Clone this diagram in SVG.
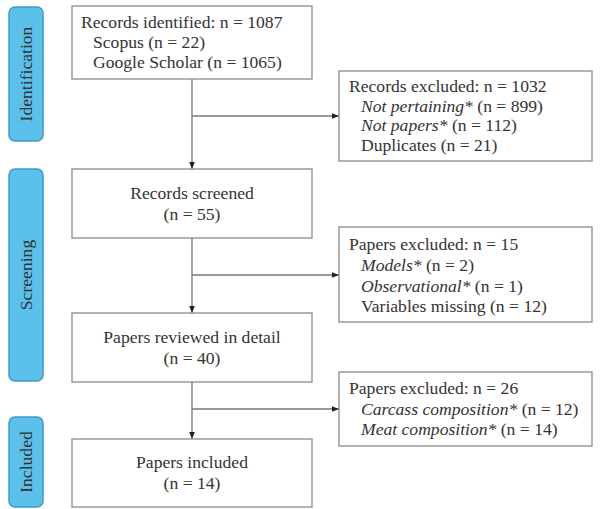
<svg xmlns="http://www.w3.org/2000/svg" width="600" height="509" viewBox="0 0 600 509">
<defs>
<marker id="arr" viewBox="0 0 10 10" refX="10" refY="5" markerWidth="7" markerHeight="7" markerUnits="userSpaceOnUse" orient="auto">
<path d="M0,1 L10,5 L0,9 z" fill="#222"/>
</marker>
<style>
.box{fill:#fff;stroke:#8a8a8a;stroke-width:1.3}
.stage{fill:#5bc1ea;stroke:#3d9cc6;stroke-width:1.5}
.t{font-family:"Liberation Serif","Times New Roman",serif;font-size:17.6px;fill:#333}
.c{text-anchor:middle}
.i{font-style:italic}
.ln{fill:none;stroke:#777;stroke-width:1.3}
</style>
</defs>
<rect width="600" height="509" fill="#fff"/>
<g id="stage-identification">
<rect class="stage" x="9" y="7" width="34" height="134" rx="6"/>
<text class="t c" transform="translate(32,74) rotate(-90)">Identification</text>
</g>
<g id="stage-screening">
<rect class="stage" x="9" y="169" width="34" height="212" rx="6"/>
<text class="t c" transform="translate(32,275) rotate(-90)">Screening</text>
</g>
<g id="stage-included">
<rect class="stage" x="9" y="417" width="34" height="90" rx="6"/>
<text class="t c" transform="translate(32,462) rotate(-90)">Included</text>
</g>
<g id="connectors">
<line class="ln" x1="192" y1="79" x2="192" y2="169" marker-end="url(#arr)"/>
<line class="ln" x1="192" y1="116" x2="339" y2="116" marker-end="url(#arr)"/>
<line class="ln" x1="192" y1="238" x2="192" y2="313" marker-end="url(#arr)"/>
<line class="ln" x1="192" y1="275" x2="339" y2="275" marker-end="url(#arr)"/>
<line class="ln" x1="192" y1="382" x2="192" y2="439" marker-end="url(#arr)"/>
<line class="ln" x1="192" y1="409" x2="339" y2="409" marker-end="url(#arr)"/>
</g>
<g id="records-identified">
<rect class="box" x="72" y="6" width="240" height="73"/>
<text class="t" x="81" y="28">Records identified: n = 1087</text>
<text class="t" x="93" y="48">Scopus (n = 22)</text>
<text class="t" x="93" y="68">Google Scholar (n = 1065)</text>
</g>
<g id="records-excluded">
<rect class="box" x="339" y="71" width="253" height="90"/>
<text class="t" x="349" y="92">Records excluded: n = 1032</text>
<text class="t" x="361" y="112"><tspan class="i">Not pertaining*</tspan> (n = 899)</text>
<text class="t" x="361" y="131"><tspan class="i">Not papers*</tspan> (n = 112)</text>
<text class="t" x="361" y="151">Duplicates (n = 21)</text>
</g>
<g id="records-screened">
<rect class="box" x="72" y="169" width="240" height="69"/>
<text class="t c" x="192" y="199">Records screened</text>
<text class="t c" x="192" y="220">(n = 55)</text>
</g>
<g id="papers-excluded-1">
<rect class="box" x="339" y="227" width="253" height="95"/>
<text class="t" x="349" y="250">Papers excluded: n = 15</text>
<text class="t" x="361" y="271"><tspan class="i">Models*</tspan> (n = 2)</text>
<text class="t" x="361" y="292"><tspan class="i">Observational*</tspan> (n = 1)</text>
<text class="t" x="361" y="312">Variables missing (n = 12)</text>
</g>
<g id="papers-reviewed">
<rect class="box" x="72" y="313" width="240" height="69"/>
<text class="t c" x="192" y="343">Papers reviewed in detail</text>
<text class="t c" x="192" y="364">(n = 40)</text>
</g>
<g id="papers-excluded-2">
<rect class="box" x="339" y="372" width="253" height="74"/>
<text class="t" x="349" y="394">Papers excluded: n = 26</text>
<text class="t" x="361" y="415"><tspan class="i">Carcass composition*</tspan> (n = 12)</text>
<text class="t" x="361" y="435"><tspan class="i">Meat composition*</tspan> (n = 14)</text>
</g>
<g id="papers-included">
<rect class="box" x="72" y="439" width="240" height="68"/>
<text class="t c" x="192" y="468">Papers included</text>
<text class="t c" x="192" y="489">(n = 14)</text>
</g>
</svg>
